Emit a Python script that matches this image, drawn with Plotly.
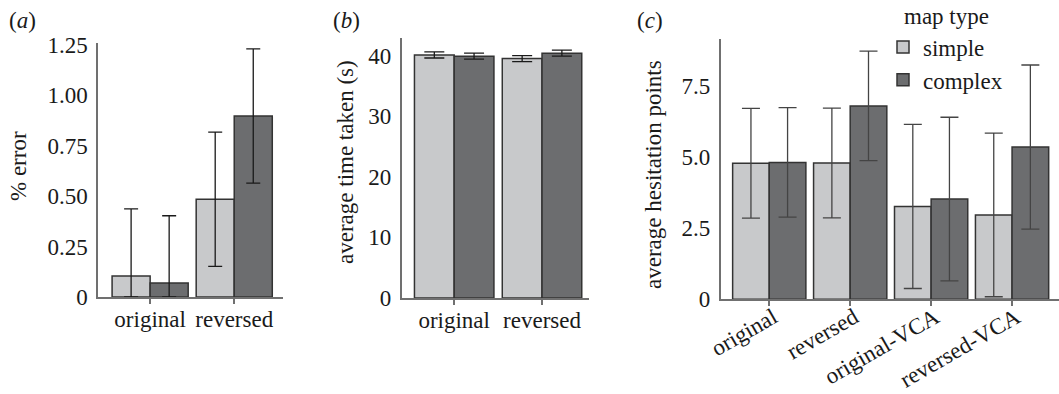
import plotly.graph_objects as go

# ---------------- data ----------------
groups_ab = ["original", "reversed"]
groups_c = ["original", "reversed", "original-VCA", "reversed-VCA"]
series_names = ["simple", "complex"]

err_simple = [0.104, 0.485]
err_complex = [0.07, 0.898]
err_simple_sd = [0.333, 0.333]
err_complex_sd = [0.333, 0.333]

time_simple = [40.1, 39.5]
time_complex = [39.9, 40.4]
time_simple_sd = [0.5, 0.5]
time_complex_sd = [0.5, 0.5]

hes_simple = [4.79, 4.80, 3.27, 2.97]
hes_complex = [4.82, 6.81, 3.53, 5.36]
hes_simple_sd = [1.93, 1.93, 2.89, 2.88]
hes_complex_sd = [1.93, 1.93, 2.88, 2.89]

ticks_a = [0, 0.25, 0.5, 0.75, 1.0, 1.25]
ticktext_a = ["0", "0.25", "0.50", "0.75", "1.00", "1.25"]
ticks_b = [0, 10, 20, 30, 40]
ticktext_b = ["0", "10", "20", "30", "40"]
ticks_c = [0, 2.5, 5.0, 7.5]
ticktext_c = ["0", "2.5", "5.0", "7.5"]

# ---------------- style ----------------
W, H = 1059, 394
FONT = "Liberation Serif, Times New Roman, Times, serif"
FS = 23
LIGHT = "#c8c9cb"
DARK = "#6c6d6f"
OUTLINE = "#333333"
AXIS = "#707070"
TXT = "#1a1a1a"

fig = go.Figure()


def add_pair(xs, v1, s1, v2, s2, xa, ya, ecol, cap, legend=False):
    for vals, sds, col, name in ((v1, s1, LIGHT, series_names[0]),
                                 (v2, s2, DARK, series_names[1])):
        fig.add_trace(go.Bar(
            x=xs, y=vals, name=name, xaxis=xa, yaxis=ya,
            marker=dict(color=col, line=dict(color=OUTLINE, width=1.5)),
            error_y=dict(type="data", symmetric=False, array=sds,
                         arrayminus=[min(v, s) for v, s in zip(vals, sds)],
                         color=ecol, thickness=1.3, width=cap),
            showlegend=legend, offsetgroup=name,
        ))


add_pair(groups_ab, err_simple, err_simple_sd, err_complex, err_complex_sd,
         "x", "y", "#1a1a1a", 7)
add_pair(groups_ab, time_simple, time_simple_sd, time_complex, time_complex_sd,
         "x2", "y2", "#1a1a1a", 10)
add_pair(groups_c, hes_simple, hes_simple_sd, hes_complex, hes_complex_sd,
         "x3", "y3", "#444444", 9, legend=True)


def px_x(p):
    return p / W


def px_y(p):
    return (H - p) / H


common_x = dict(type="category", showline=True, linecolor=AXIS, linewidth=1.5,
                showgrid=False, zeroline=False, ticks="outside", ticklen=5,
                tickcolor=AXIS, tickwidth=1.5, automargin=False,
                tickfont=dict(family=FONT, size=FS, color=TXT))
common_y = dict(showline=True, linecolor=AXIS, linewidth=1.5, showgrid=False,
                zeroline=False, ticks="", ticklabelstandoff=4, automargin=False,
                tickfont=dict(family=FONT, size=FS, color=TXT))

fig.update_layout(
    width=W, height=H,
    margin=dict(l=0, r=0, t=0, b=0, pad=0, autoexpand=False),
    paper_bgcolor="white", plot_bgcolor="white",
    barmode="group", bargap=0.095, bargroupgap=0,
    font=dict(family=FONT, size=FS, color=TXT),
    xaxis=dict(common_x, domain=[px_x(98), px_x(283)], range=[-0.62, 1.58],
               anchor="y", tickangle=0, ticklabelstandoff=-4),
    yaxis=dict(common_y, domain=[px_y(297), px_y(43)], range=[0, 1.26],
               tickvals=ticks_a, ticktext=ticktext_a, anchor="x"),
    xaxis2=dict(common_x, domain=[px_x(401.5), px_x(589)], range=[-0.6, 1.535],
                anchor="y2", tickangle=0, ticklabelstandoff=-4),
    yaxis2=dict(common_y, domain=[px_y(298), px_y(38)], range=[0, 42.9],
                tickvals=ticks_b, ticktext=ticktext_b, anchor="x2"),
    xaxis3=dict(common_x, domain=[px_x(720.7), 1.0], range=[-0.6, 3.58],
                anchor="y3", tickangle=-30, ticklabelstandoff=-11,
                ticklabelshift=4),
    yaxis3=dict(common_y, domain=[px_y(299.3), px_y(39.3)], range=[0, 9.155],
                tickvals=ticks_c, ticktext=ticktext_c, anchor="x3"),
    legend=dict(x=px_x(883), y=px_y(25.5), xanchor="left", yanchor="top",
                bgcolor="rgba(0,0,0,0)", font=dict(family=FONT, size=FS, color=TXT),
                tracegroupgap=0, itemclick=False),
)

annots = [
    dict(text="(<i>a</i>)", x=px_x(7), y=px_y(21), xanchor="left"),
    dict(text="(<i>b</i>)", x=px_x(331), y=px_y(21), xanchor="left"),
    dict(text="(<i>c</i>)", x=px_x(635), y=px_y(20), xanchor="left"),
    dict(text="% error", x=px_x(18), y=px_y(166), textangle=-90),
    dict(text="average time taken (s)", x=px_x(345), y=px_y(162), textangle=-90),
    dict(text="average hesitation points", x=px_x(653), y=px_y(175), textangle=-90),
    dict(text="map type", x=px_x(902), y=px_y(17), xanchor="left"),
]
for a in annots:
    a.setdefault("xanchor", "center")
    fig.add_annotation(xref="paper", yref="paper", showarrow=False,
                       yanchor="middle", font=dict(family=FONT, size=FS, color=TXT),
                       **a)

fig.write_html("out.html",
               config={"displayModeBar": False},
               post_script="document.body.style.margin='0px';")
